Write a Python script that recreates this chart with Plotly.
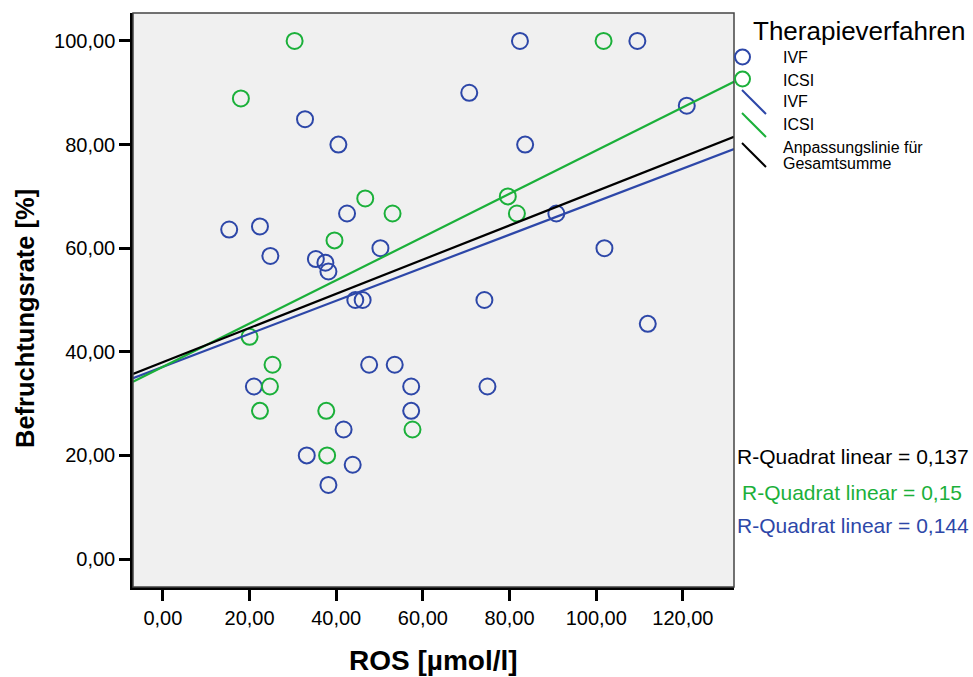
import plotly.graph_objects as go

# ---------------- data ----------------
ivf_x = [15.3, 22.4, 24.8, 32.8, 40.5, 42.5, 35.3, 37.5, 38.2, 50.2, 44.4, 46.1,
         82.4, 109.5, 70.7, 83.6, 120.9, 90.8, 101.9, 74.2, 111.9, 74.9,
         21.0, 47.6, 53.5, 57.3, 57.3, 41.7, 33.2, 43.8, 38.2]
ivf_y = [63.6, 64.2, 58.5, 84.9, 80.0, 66.7, 57.9, 57.2, 55.5, 60.0, 50.0, 50.0,
         100.0, 100.0, 90.0, 80.0, 87.5, 66.7, 60.0, 50.0, 45.4, 33.3,
         33.3, 37.5, 37.5, 33.3, 28.6, 25.0, 20.0, 18.2, 14.3]

icsi_x = [30.4, 18.0, 46.7, 53.0, 39.6, 101.7, 79.6, 81.7,
          20.0, 25.3, 24.7, 22.4, 37.7, 37.9, 57.6]
icsi_y = [100.0, 88.9, 69.6, 66.7, 61.5, 100.0, 70.0, 66.7,
          42.9, 37.5, 33.3, 28.6, 28.6, 20.0, 25.0]

# fit lines (intercept, slope)
fit_names = ["IVF", "ICSI", "Gesamt"]
fit_intercept = [37.1, 37.1, 38.0]
fit_slope = [0.319, 0.4175, 0.330]
r2_labels = ["R-Quadrat linear = 0,137", "R-Quadrat linear = 0,15", "R-Quadrat linear = 0,144"]

x_range = [-6.9, 131.8]
y_range = [-5.4, 105.4]
x_ticks = [0, 20, 40, 60, 80, 100, 120]
x_ticktext = ["0,00", "20,00", "40,00", "60,00", "80,00", "100,00", "120,00"]
y_ticks = [0, 20, 40, 60, 80, 100]
y_ticktext = ["0,00", "20,00", "40,00", "60,00", "80,00", "100,00"]

# ---------------- styling ----------------
BLUE = "#2D47A8"
GREEN = "#1BB03A"
BLACK = "#000000"
FONT = "Liberation Sans, Arial, Helvetica, sans-serif"

W, H = 973, 677
L, R, T, B = 133, 734, 13, 587


def px(x):
    return (x - L) / (R - L)


def py(y):
    return (B - y) / (B - T)


fig = go.Figure()

fig.add_trace(go.Scatter(x=ivf_x, y=ivf_y, mode="markers", name="IVF",
                         marker=dict(symbol="circle-open", size=16, color=BLUE,
                                     line=dict(width=2, color=BLUE)),
                         showlegend=False, cliponaxis=False))
fig.add_trace(go.Scatter(x=icsi_x, y=icsi_y, mode="markers", name="ICSI",
                         marker=dict(symbol="circle-open", size=16, color=GREEN,
                                     line=dict(width=2, color=GREEN)),
                         showlegend=False, cliponaxis=False))

line_colors = [BLUE, GREEN, BLACK]
for i in [0, 1, 2]:
    xs = x_range
    ys = [fit_intercept[i] + fit_slope[i] * xv for xv in xs]
    fig.add_trace(go.Scatter(x=xs, y=ys, mode="lines", name=fit_names[i],
                             line=dict(color=line_colors[i], width=2.2),
                             showlegend=False))

shapes = []
annotations = []

# plot frame (top/right thin)
shapes.append(dict(type="rect", xref="paper", yref="paper", x0=0, y0=0, x1=1, y1=1,
                   line=dict(color="#444444", width=1.5), layer="above"))

# axis titles
annotations.append(dict(text="<b>Befruchtungsrate [%]</b>", xref="paper", yref="paper",
                        x=px(25), y=py(319), xanchor="center", yanchor="middle",
                        textangle=-90, showarrow=False,
                        font=dict(size=25.5, family=FONT, color="black")))
annotations.append(dict(text="<b>ROS [µmol/l]</b>", xref="paper", yref="paper",
                        x=px(433.5), y=py(660), xanchor="center", yanchor="middle",
                        showarrow=False, font=dict(size=28, family=FONT, color="black")))

# custom legend
annotations.append(dict(text="Therapieverfahren", xref="paper", yref="paper",
                        x=px(751), y=py(31), xanchor="left", yanchor="middle",
                        showarrow=False, font=dict(size=26, family=FONT, color="black")))
leg_font = dict(size=16, family=FONT, color="black")
# circles
for cy, col in [(57, BLUE), (79, GREEN)]:
    shapes.append(dict(type="circle", xref="paper", yref="paper",
                       x0=px(735), x1=px(750), y0=py(cy + 7.5), y1=py(cy - 7.5),
                       line=dict(color=col, width=2)))
# diagonal lines
for y0, col in [(90, BLUE), (113, GREEN), (143, BLACK)]:
    shapes.append(dict(type="line", xref="paper", yref="paper",
                       x0=px(742), y0=py(y0), x1=px(766), y1=py(y0 + 24),
                       line=dict(color=col, width=2)))
for txt, yy in [("IVF", 57), ("ICSI", 80), ("IVF", 102), ("ICSI", 125),
                ("Anpassungslinie für", 148), ("Gesamtsumme", 164)]:
    annotations.append(dict(text=txt, xref="paper", yref="paper", x=px(781), y=py(yy),
                            xanchor="left", yanchor="middle", showarrow=False,
                            font=leg_font))

# R squared texts
for txt, col, cx, yy in [(r2_labels[0], BLACK, 853, 456),
                         (r2_labels[1], GREEN, 852, 492),
                         (r2_labels[2], BLUE, 853, 525)]:
    annotations.append(dict(text=txt, xref="paper", yref="paper", x=px(cx), y=py(yy),
                            xanchor="center", yanchor="middle", showarrow=False,
                            font=dict(size=21, family=FONT, color=col)))

fig.update_layout(
    width=W, height=H,
    margin=dict(l=L, r=W - R, t=T, b=H - B, pad=0),
    paper_bgcolor="white",
    plot_bgcolor="#F0F0F0",
    font=dict(family=FONT, size=20, color="black"),
    shapes=shapes,
    annotations=annotations,
    showlegend=False,
)
fig.update_xaxes(range=x_range, tickvals=x_ticks, ticktext=x_ticktext,
                 showgrid=False, zeroline=False, showline=True, linecolor="black",
                 linewidth=2.5, ticks="outside", ticklen=11, tickwidth=2.5,
                 tickcolor="black", tickfont=dict(size=20, family=FONT, color="black"))
fig.update_yaxes(range=y_range, tickvals=y_ticks, ticktext=y_ticktext,
                 showgrid=False, zeroline=False, showline=True, linecolor="black",
                 linewidth=2.5, ticks="outside", ticklen=11, tickwidth=2.5,
                 tickcolor="black", tickfont=dict(size=20, family=FONT, color="black"))

fig.write_html("out.html")
